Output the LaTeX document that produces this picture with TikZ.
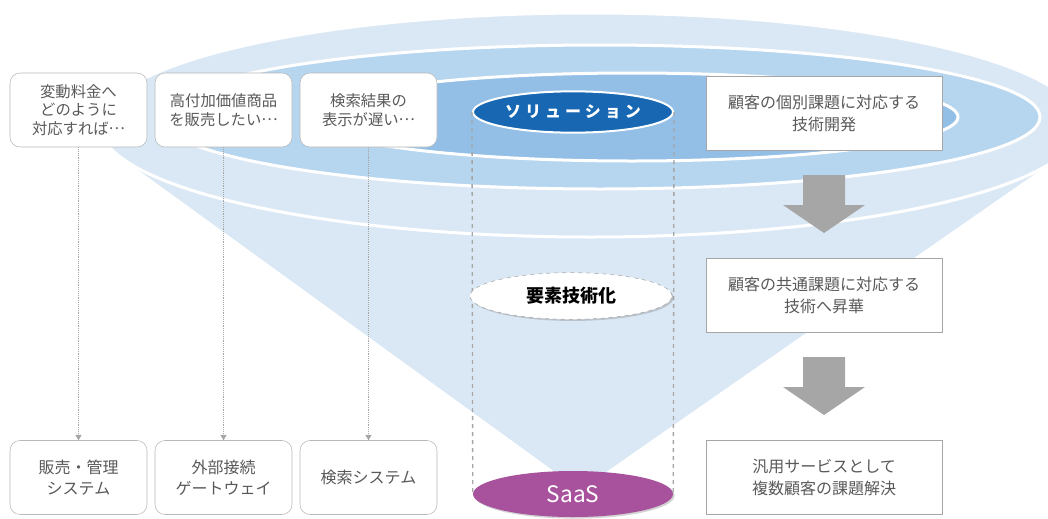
\documentclass[tikz,border=0pt]{standalone}
\usepackage{fontspec}
\setmainfont{Noto Sans CJK JP}
\usetikzlibrary{shapes.geometric,arrows.meta,shadows}

\definecolor{ringlight}{HTML}{DAE8F5}
\definecolor{ringmid}{HTML}{B6D5EF}
\definecolor{ringdark}{HTML}{93BFE6}
\definecolor{solblue}{HTML}{1767B2}
\definecolor{saaspurple}{HTML}{A8519C}
\definecolor{textgray}{HTML}{595959}
\definecolor{linegray}{HTML}{A6A6A6}

\newcommand{\middots}{\raisebox{0.3em}{…}}

\tikzset{
    issue/.style={draw=linegray!80, fill=white, rounded corners=7.5pt, minimum width=102.75pt,
        minimum height=55.5pt, inner sep=0pt, align=center, text=textgray,
        font=\fontsize{11.5}{14}\selectfont},
    system/.style={issue, font=\fontsize{12}{16}\selectfont},
    stage/.style={draw=linegray, fill=white, minimum width=177pt, minimum height=55.5pt,
        inner sep=0pt, align=center, text=textgray, font=\fontsize{12}{16.5}\selectfont},
    level/.style={ellipse, minimum width=150pt, minimum height=31pt, inner sep=0pt},
    guide/.style={draw=linegray, densely dotted, -{Triangle[length=4pt,width=4.5pt]}},
    ring/.style={draw=white, line width=2.25pt},
}

\begin{document}
\begin{tikzpicture}[x=0.75pt,y=-0.75pt]
    \useasboundingbox (0,0) rectangle (1048,518);

    \fill[ringlight] (590,125) ellipse (490 and 112);
    \fill[ringlight] (123,159) -- (580,490) -- (1055,160) -- cycle;
    \draw[ring] (590,125) ellipse (490 and 112);
    \draw[ring, fill=ringmid] (600,117) ellipse (440 and 72);
    \draw[ring, fill=ringdark] (632,117) ellipse (326 and 44);

    \node[issue] (q1) at (78.5,110) {変動料金へ\\どのように\\対応すれば\middots};
    \node[issue] (q2) at (223.5,110) {高付加価値商品\\を販売したい\middots};
    \node[issue] (q3) at (368.5,110) {検索結果の\\表示が遅い\middots};
    \node[system] (s1) at (78.5,477.5) {販売・管理\\システム};
    \node[system] (s2) at (223.5,477.5) {外部接続\\ゲートウェイ};
    \node[system] (s3) at (368.5,477.5) {検索システム};
    \draw[guide] (q1) -- (s1);
    \draw[guide] (q2) -- (s2);
    \draw[guide] (q3) -- (s3);

    \node[level, fill=solblue, draw=white, line width=1.5pt, text=white,
        font=\bfseries\fontsize{12}{12}\selectfont\addfontfeature{LetterSpace=25}] (sol) at (573,112) {ソリューション};
    \node[level, minimum height=34.5pt, fill=saaspurple, text=white,
        drop shadow={opacity=.35, shadow xshift=1.2pt, shadow yshift=-1.2pt},
        font=\fontsize{17}{17}\selectfont] (saas) at (573,494) {SaaS};
    \draw[linegray, dashed, line width=1pt] (sol.west) -- (saas.west);
    \draw[linegray, dashed, line width=1pt] (sol.east) -- (saas.east);
    \node[level, minimum width=151.5pt, minimum height=35pt, fill=white, draw=linegray, dashed,
        drop shadow={opacity=.35, shadow xshift=1.2pt, shadow yshift=-1.2pt},
        font=\bfseries\fontsize{13.5}{13.5}\selectfont] (elem) at (571,296) {要素技術化};

    \node[stage] (r1) at (824,113) {顧客の個別課題に対応する\\技術開発};
    \node[stage] (r2) at (824,295) {顧客の共通課題に対応する\\技術へ昇華};
    \node[stage] (r3) at (824,477) {汎用サービスとして\\複数顧客の課題解決};
    \foreach \t in {175,357}
        \fill[linegray] (803,\t) -- (845,\t) -- (845,\t+30) -- (865,\t+30) -- (824,\t+58)
            -- (783,\t+30) -- (803,\t+30) -- cycle;
\end{tikzpicture}
\end{document}
